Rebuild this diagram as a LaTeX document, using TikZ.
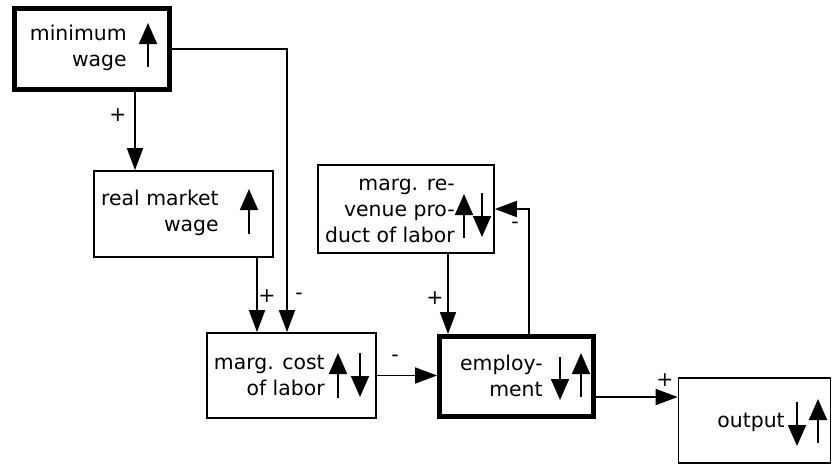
\documentclass[tikz,border=0pt]{standalone}
\usepackage{fontspec}
\setmainfont{DejaVu Sans}
\usetikzlibrary{arrows.meta}

\tikzset{
  box/.style={draw, line width=1pt, inner sep=0pt},
  keybox/.style={box, line width=2.8pt},
  lbl/.style={align=right, anchor=east, inner sep=0pt},
  sign/.style={inner sep=0pt},
  link/.style={line width=1pt, -{Triangle[length=0.44cm,width=0.32cm]}},
  trend/.style={line width=1pt, -{Triangle[length=0.42cm,width=0.36cm]}},
}

\begin{document}
\begin{tikzpicture}[x=0.02cm, y=-0.02cm, font=\fontsize{11.6}{14.8}\selectfont]
            \useasboundingbox (0,0) rectangle (832,464);

            % boxes
            \node[keybox, minimum width=3.1cm, minimum height=1.63cm] (minwage) at (92,49) {};
            \node[box, minimum width=3.58cm, minimum height=1.72cm] (realwage) at (183.5,214) {};
            \node[box, minimum width=3.38cm, minimum height=1.7cm] (margcost) at (291.5,375.5) {};
            \node[keybox, minimum width=3.08cm, minimum height=1.6cm] (employ) at (516.5,376.5) {};
            \node[box, minimum width=3.52cm, minimum height=1.76cm] (margrev) at (406,209) {};
            \node[box, minimum width=3.04cm, minimum height=1.7cm] (output) at (754.5,420.5) {};

            % box texts
            \node[lbl] (minwage-t) at (127,48) {minimum\\wage};
            \node[lbl] (realwage-t) at (219,212.5) {real market\\wage};
            \node[lbl] (margcost-t) at (325,375) {marg. cost\\of labor};
            \node[lbl] (employ-t) at (543,376) {employ-\\ment};
            \node[lbl] (margrev-t) at (455,211) {marg. re-\\venue pro-\\duct of labor};
            \node[lbl] (output-t) at (785,422) {output};

            % up and down trends
            \draw[trend] (148,67) -- (148,23);
            \draw[trend] (249,234) -- (249,189);
            \draw[trend] (338,398) -- (338,353); \draw[trend] (360,353) -- (360,397);
            \draw[trend] (560,357) -- (560,400); \draw[trend] (581,397) -- (581,353);
            \draw[trend] (464,238) -- (464,194); \draw[trend] (482,193) -- (482,237);
            \draw[trend] (797,402) -- (797,446); \draw[trend] (818,443) -- (818,399);

            % links
            \draw[link] (minwage.south -| 135,0) -- (realwage.north -| 135,0);
            \draw[link] (minwage.east) -| (margcost.north -| 287,0);
            \draw[link] (realwage.south -| 257,0) -- (margcost.north -| 257,0);
            \draw[link] (margcost.east) -- (employ.west |- margcost.east);
            \draw[link] (margrev.south -| 448,0) -- (employ.north -| 448,0);
            \draw[link] (employ.north -| 529,0) |- (margrev.east);
            \draw[link] (employ.east |- 0,397) -- (output.west |- 0,397);

            % signs
            \node[sign] (s1) at (118,115) {+};
            \node[sign] (s2) at (267,296) {+};
            \node[sign] (s3) at (299,296) {-};
            \node[sign] (s4) at (395,358) {-};
            \node[sign] (s5) at (435,298) {+};
            \node[sign] (s6) at (515,225) {-};
            \node[sign] (s7) at (665,380) {+};
\end{tikzpicture}
\end{document}
